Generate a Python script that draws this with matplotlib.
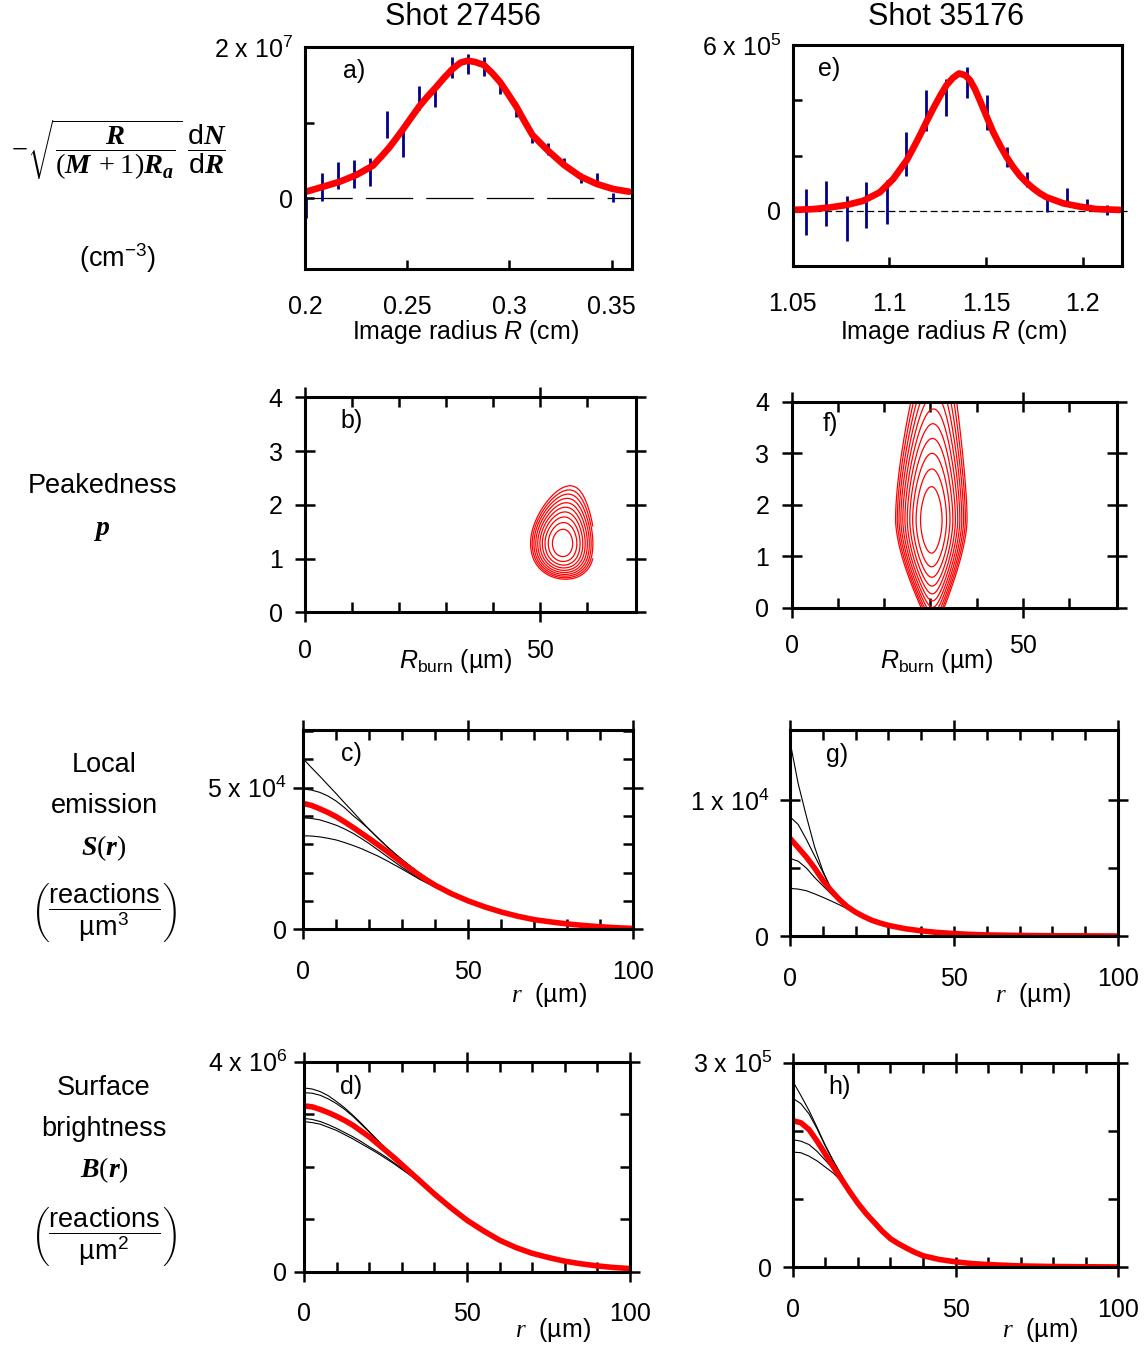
import numpy as np
import matplotlib
matplotlib.use('Agg')
import matplotlib.pyplot as plt
from matplotlib.ticker import FixedLocator

# ---------------- fonts ----------------
plt.rcParams['font.family'] = ['Liberation Sans', 'DejaVu Sans']
plt.rcParams['mathtext.fontset'] = 'custom'
plt.rcParams['mathtext.rm'] = 'Liberation Serif'
plt.rcParams['mathtext.it'] = 'Liberation Sans:italic'
plt.rcParams['mathtext.bf'] = 'Liberation Serif:bold'
plt.rcParams['mathtext.sf'] = 'Liberation Sans'
plt.rcParams['mathtext.cal'] = 'Liberation Serif:italic'
plt.rcParams['lines.scale_dashes'] = False
try:
    plt.rcParams['mathtext.bfit'] = 'Liberation Serif:italic:bold'
    BF = r'\mathbfit'
except KeyError:
    BF = r'\mathbf'

# ---------------- data ----------------
# panel a (Shot 27456), values in units of 1e7 cm^-3
a_R = [0.2005, 0.2083, 0.2162, 0.2241, 0.2319, 0.2400, 0.2479, 0.2558, 0.2636, 0.2717,
       0.2796, 0.2875, 0.2953, 0.3034, 0.3113, 0.3189, 0.3268, 0.3349, 0.3429, 0.3508]
a_val = [-0.126, 0.148, 0.298, 0.320, 0.344, 0.976, 0.718, 1.325, 1.342, 1.728,
         1.771, 1.746, 1.477, 1.175, 0.785, 0.646, 0.470, 0.261, 0.249, 0.007]
a_err = [0.143, 0.187, 0.183, 0.183, 0.185, 0.177, 0.170, 0.159, 0.132, 0.143,
         0.132, 0.126, 0.103, 0.097, 0.062, 0.077, 0.056, 0.066, 0.086, 0.064]
a_fit_R = [0.2005, 0.2089, 0.2170, 0.2251, 0.2332, 0.2372, 0.2413, 0.2445, 0.2477, 0.2517,
           0.2558, 0.2598, 0.2639, 0.2680, 0.2720, 0.2760, 0.2796, 0.2833, 0.2875, 0.2914,
           0.2953, 0.2993, 0.3034, 0.3073, 0.3113, 0.3189, 0.3268, 0.3349, 0.3429, 0.3508,
           0.3586]
a_fit = [0.084, 0.150, 0.216, 0.305, 0.428, 0.545, 0.671, 0.785, 0.901, 1.055,
         1.210, 1.340, 1.461, 1.590, 1.704, 1.792, 1.819, 1.801, 1.762, 1.660,
         1.541, 1.380, 1.210, 1.020, 0.834, 0.627, 0.437, 0.283, 0.185, 0.119,
         0.084]

# panel e (Shot 35176), values in units of 1e5 cm^-3
e_R = [1.0569, 1.0672, 1.0779, 1.0881, 1.0986, 1.1087, 1.1189, 1.1294, 1.1400, 1.1503,
       1.1607, 1.1710, 1.1813, 1.1917, 1.2020, 1.2124]
e_val = [-0.04, 0.27, -0.27, 0.21, 0.32, 2.06, 3.62, 4.10, 4.65, 3.56,
         1.95, 1.13, 0.18, 0.56, 0.27, 0.03]
e_err = [0.83, 0.82, 0.82, 0.82, 0.81, 0.79, 0.75, 0.67, 0.56, 0.62,
         0.35, 0.28, 0.24, 0.25, 0.15, 0.19]
e_fit_R = [1.0500, 1.0607, 1.0693, 1.0779, 1.0865, 1.0951, 1.1020, 1.1089, 1.1124, 1.1158,
           1.1192, 1.1227, 1.1262, 1.1296, 1.1329, 1.1360, 1.1391, 1.1417, 1.1443, 1.1468,
           1.1502, 1.1537, 1.1572, 1.1607, 1.1641, 1.1675, 1.1710, 1.1744, 1.1779, 1.1813,
           1.1899, 1.1985, 1.2072, 1.2192]
e_fit = [0.03, 0.06, 0.12, 0.21, 0.36, 0.67, 1.15, 1.82, 2.27, 2.73,
         3.22, 3.70, 4.15, 4.55, 4.81, 4.97, 4.91, 4.73, 4.40, 4.00,
         3.43, 2.85, 2.37, 1.94, 1.58, 1.27, 1.02, 0.81, 0.63, 0.49,
         0.27, 0.15, 0.06, 0.03]

# panels b, f: likelihood-contour parameters (R_burn in um, peakedness p)
b_center = (54.75, 1.285)
b_widths = dict(sR=2.15, sp_up=0.235, a_up=0.41, sp_dn=0.269, b_dn=0.318, tilt=1.4, pinch=0.0)
b_Rrange = (42.0, 61.2)
b_levels = [1, 2, 3, 4, 5, 6, 7, 8, 9, 10]
f_center = (30.2, 1.70)
f_widths = dict(sR=2.33, sp_up=0.55, a_up=0.279, sp_dn=0.64, b_dn=0.0, tilt=0.1, pinch=0.46)
f_Rrange = (15.0, 38.1)
f_levels = [1, 2, 3, 4, 5, 6, 7, 8, 9, 10, 11]

# panel c: local emission, Shot 27456 (units 1e4)
c_r = [0, 2.5, 5, 7.5, 10, 12.5, 15, 17.5, 20, 22.5, 25, 27.5, 30, 32.5, 35, 37.5, 40,
       45, 50, 55, 60, 65, 70, 75, 80, 85, 90, 95, 100]
c_best = [4.44, 4.37, 4.25, 4.12, 3.97, 3.79, 3.60, 3.40, 3.20, 2.99, 2.78, 2.56, 2.34,
          2.13, 1.92, 1.73, 1.55, 1.25, 1.00, 0.79, 0.61, 0.46, 0.34, 0.26, 0.19, 0.135,
          0.09, 0.055, 0.03]
c_others_head = [
    [6.01, 5.70, 5.40, 5.09, 4.78, 4.46, 4.15, 3.83, 3.52, 3.23, 2.95, 2.69, 2.45, 2.22, 2.00, 1.80, 1.62, 1.29, 1.02],
    [4.95, 4.91, 4.83, 4.70, 4.52, 4.29, 4.02, 3.78, 3.52, 3.24, 2.96, 2.70, 2.45, 2.22, 2.00, 1.80, 1.61, 1.29, 1.02],
    [3.93, 3.91, 3.86, 3.77, 3.67, 3.54, 3.39, 3.21, 3.02, 2.81, 2.60, 2.39, 2.18, 1.99, 1.80, 1.64, 1.50, 1.22, 0.99],
    [3.30, 3.29, 3.26, 3.21, 3.15, 3.06, 2.96, 2.85, 2.72, 2.59, 2.44, 2.28, 2.12, 1.95, 1.78, 1.63, 1.49, 1.22, 0.99],
]
# panel g: local emission, Shot 35176 (units 1e4)
g_r = [0, 2.5, 5, 7.5, 10, 12.5, 15, 17.5, 20, 22.5, 25, 27.5, 30, 35, 40, 45, 50, 55, 60,
       70, 80, 90, 100]
g_best = [0.718, 0.65, 0.58, 0.50, 0.41, 0.335, 0.27, 0.215, 0.175, 0.143, 0.115, 0.095,
          0.078, 0.054, 0.038, 0.026, 0.018, 0.012, 0.008, 0.004, 0.002, 0.001, 0.0]
g_others_head = [
    [1.43, 1.12, 0.88, 0.655, 0.48, 0.345, 0.265, 0.212, 0.173, 0.143],
    [0.877, 0.82, 0.71, 0.59, 0.47, 0.35, 0.268, 0.212, 0.173, 0.143],
    [0.571, 0.55, 0.50, 0.43, 0.37, 0.31, 0.255, 0.207, 0.171, 0.142],
    [0.35, 0.345, 0.333, 0.31, 0.285, 0.258, 0.23, 0.20, 0.168, 0.140],
]
# panel d: surface brightness, Shot 27456 (units 1e6)
d_r = [0, 2.5, 5, 7.5, 10, 12.5, 15, 17.5, 20, 22.5, 25, 27.5, 30, 32.5, 35, 37.5, 40,
       45, 50, 55, 60, 65, 70, 75, 80, 85, 90, 95, 100]
d_best = [3.16, 3.14, 3.09, 3.03, 2.96, 2.88, 2.79, 2.68, 2.57, 2.44, 2.31, 2.18, 2.04,
          1.90, 1.76, 1.62, 1.48, 1.22, 0.98, 0.78, 0.60, 0.46, 0.35, 0.27, 0.20, 0.15,
          0.11, 0.08, 0.06]
d_others_head = [
    [3.50, 3.48, 3.43, 3.35, 3.24, 3.12, 2.98, 2.83, 2.67, 2.51, 2.35, 2.20, 2.05, 1.90, 1.76],
    [3.41, 3.40, 3.36, 3.29, 3.20, 3.09, 2.96, 2.81, 2.66, 2.50, 2.34, 2.19, 2.04, 1.90, 1.76],
    [2.92, 2.90, 2.86, 2.80, 2.73, 2.65, 2.57, 2.48, 2.38, 2.29, 2.19, 2.08, 1.97, 1.85, 1.73],
    [2.86, 2.84, 2.81, 2.75, 2.69, 2.61, 2.53, 2.44, 2.35, 2.26, 2.16, 2.06, 1.95, 1.84, 1.72],
]
# panel h: surface brightness, Shot 35176 (units 1e5)
h_r = [0, 2.5, 5, 7.5, 10, 12.5, 15, 17.5, 20, 22.5, 25, 27.5, 30, 32.5, 35, 37.5, 40,
       45, 50, 55, 60, 70, 80, 90, 100]
h_best = [2.15, 2.12, 2.02, 1.85, 1.66, 1.47, 1.29, 1.11, 0.94, 0.79, 0.66, 0.53, 0.42,
          0.345, 0.28, 0.22, 0.17, 0.115, 0.08, 0.055, 0.04, 0.02, 0.012, 0.008, 0.005]
h_others_head = [
    [2.73, 2.52, 2.30, 2.05, 1.79, 1.56, 1.35, 1.15, 0.97, 0.82, 0.69, 0.56, 0.45, 0.37, 0.30, 0.235, 0.18],
    [2.48, 2.40, 2.25, 2.03, 1.78, 1.55, 1.34, 1.14, 0.96, 0.80, 0.66, 0.53, 0.42, 0.345, 0.28, 0.22, 0.17],
    [1.87, 1.85, 1.80, 1.70, 1.57, 1.44, 1.29, 1.12, 0.95, 0.79, 0.65, 0.52, 0.41, 0.34, 0.27, 0.215, 0.17],
    [1.69, 1.68, 1.63, 1.56, 1.47, 1.38, 1.26, 1.11, 0.95, 0.79, 0.65, 0.52, 0.41, 0.34, 0.27, 0.215, 0.17],
]

titles = ['Shot 27456', 'Shot 35176']

# ---------------- figure ----------------
W, H = 1146, 1345
fig = plt.figure(figsize=(W / 100, H / 100), dpi=100)
RED = '#ff0000'
NAVY = '#00008c'
TS = 18


def add_ax(x0, y0, x1, y1):
    ax = fig.add_axes([x0 / W, 1 - y1 / H, (x1 - x0) / W, (y1 - y0) / H])
    for sp in ax.spines.values():
        sp.set_linewidth(2.2)
    return ax


def txt(x, y, s, size=19.5, **kw):
    kw.setdefault('ha', 'center')
    kw.setdefault('va', 'center')
    fig.text(x / W, 1 - y / H, s, fontsize=size, **kw)


def style_profile(ax, xpad, ypad):
    ax.tick_params(which='major', direction='in', length=6.5, width=1.8, labelsize=TS,
                   top=False, right=False)
    ax.tick_params(axis='x', which='major', pad=xpad)
    ax.tick_params(axis='y', which='major', pad=ypad)


def style_box(ax, xpad, ypad):
    ax.tick_params(which='major', direction='inout', length=14, width=1.8, labelsize=TS,
                   top=True, right=True)
    ax.tick_params(which='minor', direction='in', length=7, width=1.8, top=True, right=True)
    ax.tick_params(axis='x', which='major', pad=xpad)
    ax.tick_params(axis='y', which='major', pad=ypad)


# ---- panel a ----
ax = add_ax(305, 47, 632, 269)
ax.set_xlim(0.2, 0.36)
ax.set_ylim(-0.94, 2.0)
ax.plot([0.2, 0.36], [0, 0], color='black', lw=0.9, dashes=(34, 9.5))
ax.errorbar(a_R, a_val, yerr=a_err, fmt='none', ecolor=NAVY, elinewidth=2.0, capsize=0)
ax.plot(a_fit_R, a_fit, color=RED, lw=4.8, solid_capstyle='round', solid_joinstyle='round')
ax.set_xticks([0.2, 0.25, 0.3, 0.35])
ax.set_xticklabels(['0.2', '0.25', '0.3', '0.35'])
ax.set_yticks([0, 1, 2])
ax.set_yticklabels(['0', '', r'2 x 10$^{\mathsf{7}}$'])
style_profile(ax, 19, 8.5)
ax.text(0.15, 0.89, 'a)', transform=ax.transAxes, fontsize=TS, ha='center', va='center')

# ---- panel e ----
ax = add_ax(792.7, 45, 1121.7, 266)
ax.set_xlim(1.05, 1.2202)
ax.set_ylim(-2.0, 6.0)
ax.plot([1.05, 1.2245], [0, 0], color='black', lw=0.9, dashes=(5, 2.6), clip_on=False)
ax.errorbar(e_R, e_val, yerr=e_err, fmt='none', ecolor=NAVY, elinewidth=2.0, capsize=0)
ax.plot(e_fit_R, e_fit, color=RED, lw=4.8, solid_capstyle='round', solid_joinstyle='round')
ax.set_xticks([1.05, 1.1, 1.15, 1.2])
ax.set_xticklabels(['1.05', '1.1', '1.15', '1.2'])
ax.set_yticks([0, 2, 4, 6])
ax.set_yticklabels(['0', '', '', r'6 x 10$^{\mathsf{5}}$'])
style_profile(ax, 19, 8.5)
ax.text(0.11, 0.89, 'e)', transform=ax.transAxes, fontsize=TS, ha='center', va='center')


# ---- contour panels ----
def chi2_field(R, P, center, w):
    R0, p0 = center
    dp = P - p0
    v = np.where(dp >= 0, dp / (w['sp_up'] * (1 + w['a_up'] * dp)),
                 dp / (w['sp_dn'] * (1 - w['b_dn'] * np.abs(dp))))
    s = w['sR'] * (1 - w['pinch'] * (1 - np.clip(P / p0, 0, 1)) ** 1.5)
    u = (R - R0 - w['tilt'] * dp ** 2) / s
    return u ** 2 + v ** 2


def contour_panel(box, center, widths, Rrange, levels, label, lx):
    ax = add_ax(*box)
    Rg = np.linspace(Rrange[0], Rrange[1], 500)
    pg = np.linspace(0, 4, 500)
    RR, PP = np.meshgrid(Rg, pg)
    Z = chi2_field(RR, PP, center, widths)
    ax.contour(RR, PP, Z, levels=levels, colors=RED, linewidths=0.9)
    ax.set_xlim(0, 70.3)
    ax.set_ylim(0, 4)
    ax.xaxis.set_major_locator(FixedLocator([0, 50]))
    ax.xaxis.set_minor_locator(FixedLocator([10, 20, 30, 40, 60]))
    ax.set_xticklabels(['0', '50'])
    ax.set_yticks([0, 1, 2, 3, 4])
    ax.set_yticklabels(['0', '1', '2', '3', '4'])
    style_box(ax, 12, 9)
    ax.text(lx, 0.89, label, transform=ax.transAxes, fontsize=TS, ha='center', va='center')
    return ax


contour_panel((305, 397.3, 635.7, 612.3), b_center, b_widths, b_Rrange, b_levels, 'b)', 0.14)
contour_panel((791.7, 401.7, 1116.7, 607.7), f_center, f_widths, f_Rrange, f_levels, 'f)', 0.118)


# ---- radial profile panels ----
def radial_panel(box, r, best, heads, ylim, ymaj, ylabels, yminor, label, ypad):
    ax = add_ax(*box)
    for hd in heads:
        full = list(hd) + list(best[len(hd):])
        ax.plot(r, full, color='black', lw=0.8)
    ax.plot(r, best, color=RED, lw=4.0, solid_capstyle='butt', solid_joinstyle='round')
    ax.set_xlim(0, 100)
    ax.set_ylim(*ylim)
    ax.xaxis.set_major_locator(FixedLocator([0, 50, 100]))
    ax.xaxis.set_minor_locator(FixedLocator([10, 20, 30, 40, 60, 70, 80, 90]))
    ax.set_xticklabels(['0', '50', '100'])
    ax.yaxis.set_major_locator(FixedLocator(ymaj))
    ax.yaxis.set_minor_locator(FixedLocator(yminor))
    ax.set_yticklabels(ylabels)
    style_box(ax, 15, ypad)
    ax.text(0.145, 0.88, label, transform=ax.transAxes, fontsize=TS, ha='center', va='center')
    return ax


radial_panel((303.3, 730, 633.3, 929.3), c_r, c_best, c_others_head, (0, 7.03), [0, 5],
             ['0', r'5 x 10$^{\mathsf{4}}$'], [1, 2, 3, 4, 6, 7], 'c)', 5)
radial_panel((790, 730, 1118, 936), g_r, g_best, g_others_head, (0, 1.515), [0, 1],
             ['0', r'1 x 10$^{\mathsf{4}}$'], [0.5], 'g)', 8)
radial_panel((304, 1061.7, 630, 1271.7), d_r, d_best, d_others_head, (0, 4.0), [0, 4],
             ['0', r'4 x 10$^{\mathsf{6}}$'], [1, 2, 3], 'd)', 5)
radial_panel((792.7, 1062.7, 1118.3, 1267.3), h_r, h_best, h_others_head, (0, 3.0), [0, 3],
             ['0', r'3 x 10$^{\mathsf{5}}$'], [1, 2], 'h)', 8)

# ---------------- titles & axis labels ----------------
txt(463, 17, titles[0], size=22)
txt(946, 17, titles[1], size=22)

txt(465, 332, r'Image radius $R$ (cm)', size=18)
txt(953, 332, r'Image radius $R$ (cm)', size=18)
txt(456, 661, r'$R_{\mathsf{burn}}$ (µm)', size=18)
txt(937, 661, r'$R_{\mathsf{burn}}$ (µm)', size=18)
rlab = r'$\mathcal{r}$  (µm)'
txt(549, 995, rlab, size=18)
txt(1033, 995, rlab, size=18)
txt(553, 1330, rlab, size=18)
txt(1040, 1330, rlab, size=18)

# ---------------- left-hand row labels ----------------
formula = (r'$-\sqrt{\dfrac{' + BF + r'{R}}{(' + BF + r'{M}\,+1)' + BF + r'{R}_{' + BF + r'{a}}}}'
           r'\;\dfrac{\mathsf{d}' + BF + r'{N}}{\mathsf{d}' + BF + r'{R}}$')
txt(119, 150, formula, size=20.5)
txt(118, 258, r'(cm$^{\mathsf{-3}}$)', size=19.5)

txt(103, 486, 'Peakedness')
txt(103, 530, '$' + BF + '{p}$', size=20)

txt(104, 765, 'Local')
txt(104, 806, 'emission')
txt(104, 848, '$' + BF + '{S}(' + BF + '{r})$', size=20)
txt(104, 913, r'$\left(\dfrac{\mathsf{reactions}}{\mathsf{µm}^{\mathsf{3}}}\right)$')

txt(104, 1088, 'Surface')
txt(104, 1129, 'brightness')
txt(104, 1170, '$' + BF + '{B}(' + BF + '{r})$', size=20)
txt(104, 1237, r'$\left(\dfrac{\mathsf{reactions}}{\mathsf{µm}^{\mathsf{2}}}\right)$')

fig.savefig('out.png', dpi=100)
